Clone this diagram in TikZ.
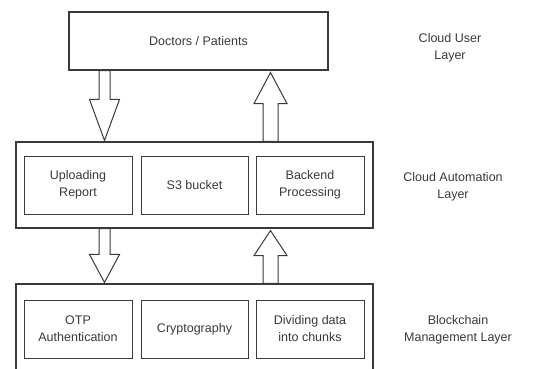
\documentclass[tikz,border=0pt]{standalone}
\usepackage{fontspec}
\setmainfont{Liberation Sans}
\usepackage{tikz}
\usepackage{xcolor}
\usetikzlibrary{calc}
\definecolor{inkgray}{HTML}{3A3A3A}
\tikzset{layerbox/.style={draw=inkgray,line width=1.1pt,inner sep=0pt},
 partbox/.style={draw=inkgray,line width=1pt,minimum width=108,minimum height=58,inner sep=0pt,align=center,font=\fontsize{12.5}{17}\selectfont,text=inkgray},
 layername/.style={align=center,font=\fontsize{12.5}{17}\selectfont,text=inkgray},
 hollow/.style={draw=inkgray,line width=1pt,fill=white},
 }
% block arrow: from, to, shaft half width, head half width, head length
\newcommand{\blockarr}[5]{%
  \coordinate (bh) at ($(#2)!#5!(#1)$);
  \draw[hollow] ([xshift=-#3]#1) -- ([xshift=-#3]bh) -- ([xshift=-#4]bh) -- (#2)
     -- ([xshift=#4]bh) -- ([xshift=#3]bh) -- ([xshift=#3]#1) -- cycle;}

\begin{document}
\begin{tikzpicture}[x=1pt,y=-1pt]
        \clip (0,0) rectangle (543,369);
        \fill[white] (0,0) rectangle (543,369);
        % layers
        \node[layerbox,minimum width=259,minimum height=58,font=\fontsize{12.5}{17}\selectfont,text=inkgray] (users) at (198.5,41) {Doctors / Patients};
        \node[layerbox,minimum width=357,minimum height=86] (automation) at (194.5,185) {};
        \node[layerbox,minimum width=357,minimum height=88] (chain) at (194.5,328) {};
        % parts of the automation layer
        \node[partbox] (upload) at (78,185) {Uploading\\Report};
        \node[partbox,minimum width=107] (bucket) at (194.5,185) {S3 bucket};
        \node[partbox] (backend) at (310,185) {Backend\\Processing};
        % parts of the blockchain layer
        \node[partbox] (otp) at (78,329) {OTP\\Authentication};
        \node[partbox,minimum width=107] (crypto) at (194.5,329) {Cryptography};
        \node[partbox] (chunks) at (310,329) {Dividing data\\into chunks};
        % layer names
        \node[layername] (userlayer) at (450,48) {Cloud User\\Layer};
        \node[layername] (autolayer) at (453,187) {Cloud Automation\\Layer};
        \node[layername] (chainlayer) at (458,330) {Blockchain\\Management Layer};
        % arrows between the layers
        \coordinate (d1a) at ([xshift=-94pt]users.south);
        \coordinate (d1b) at ([xshift=-90pt,yshift=1pt]automation.north);
        \coordinate (u1a) at ([xshift=76pt]automation.north);
        \coordinate (u1b) at ([xshift=72pt,yshift=-2pt]users.south);
        \coordinate (d2a) at ([xshift=-90pt]automation.south);
        \coordinate (d2b) at ([xshift=-90pt,yshift=1pt]chain.north);
        \coordinate (u2a) at ([xshift=76pt]chain.north);
        \coordinate (u2b) at ([xshift=76pt,yshift=-2pt]automation.south);
        \blockarr{d1a}{d1b}{5.5pt}{15pt}{41pt}
        \blockarr{u1a}{u1b}{7.5pt}{16.5pt}{31pt}
        \blockarr{d2a}{d2b}{5.5pt}{15pt}{28pt}
        \blockarr{u2a}{u2b}{7.5pt}{16.5pt}{25pt}
    \end{tikzpicture}
\end{document}
